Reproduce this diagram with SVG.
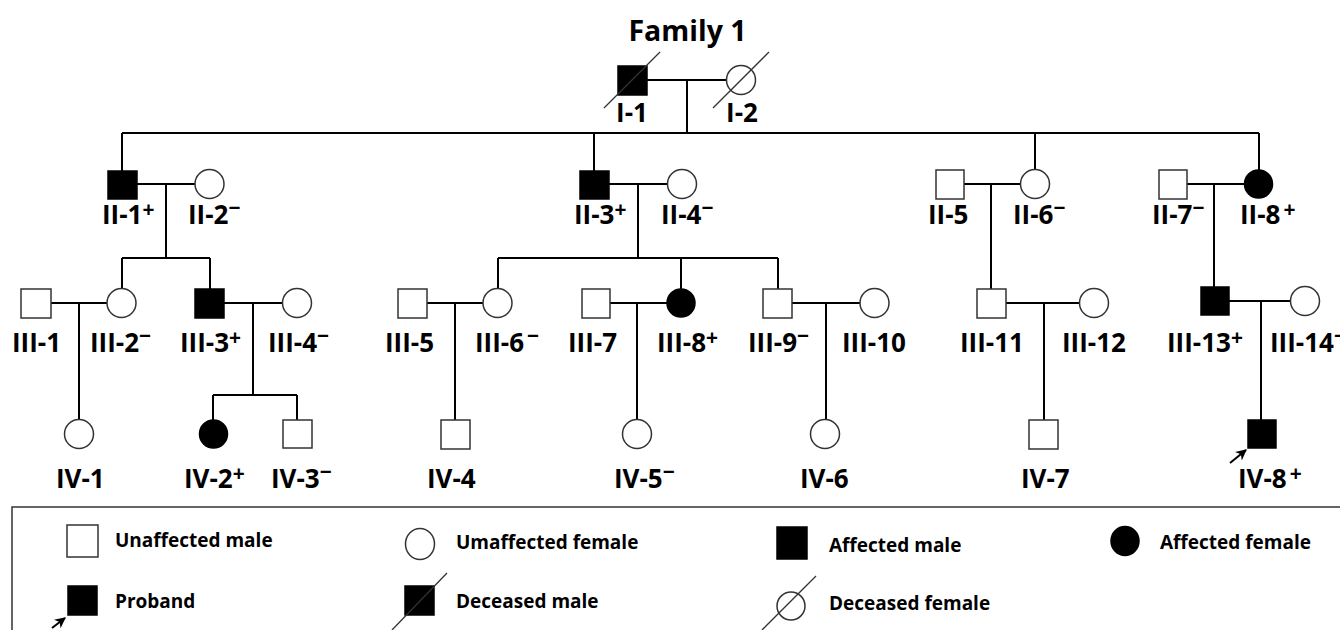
<svg xmlns="http://www.w3.org/2000/svg" width="1340" height="630" viewBox="0 0 1340 630">
<defs>
<style>
text{font-family:"Open Sans","Liberation Sans",sans-serif;font-weight:bold;fill:#000}
.title{font-size:28.5px}
.lbl{font-size:26px}
.sup{font-size:21px}
.leg{font-size:19px}
.m{fill:#fff;stroke:#333;stroke-width:1.5}
.f{fill:#fff;stroke:#333;stroke-width:1.5}
.a{fill:#000;stroke:#000;stroke-width:1.5}
.ln{stroke:#000;stroke-width:2;fill:none}
.sl{stroke:#333;stroke-width:1.3;fill:none}
</style>
<marker id="arr" viewBox="0 0 10 10" refX="9" refY="5" markerWidth="5.5" markerHeight="5.5" orient="auto"><path d="M0,0 L10,5 L0,10 L3,5 z" fill="#000"/></marker>
</defs>
<rect width="1340" height="630" fill="#fff"/>
<text class="title" x="687.5" y="41" text-anchor="middle">Family 1</text>

<g id="connectors">
<path class="ln" d="M647,80H727M687,80V133M122,133H1259M122,133V171M594,133V171M1035,133V170M1259,133V170"/>
<path class="ln" d="M137,184H195M166,184V258M122,258H210M122,258V289M210,258V289"/>
<path class="ln" d="M51,303H107M79,303V420"/>
<path class="ln" d="M224,303H283M253,303V395M213,395H297M213,395V420M297,395V420"/>
<path class="ln" d="M609,184H668M638,184V258M498,258H778M498,258V289M681,258V289M778,258V289"/>
<path class="ln" d="M427,303H483M455,303V420"/>
<path class="ln" d="M610,303H667M637,303V420"/>
<path class="ln" d="M792,303H860M826,303V420"/>
<path class="ln" d="M964,184H1021M991,184V289"/>
<path class="ln" d="M1006,303H1080M1044,303V420"/>
<path class="ln" d="M1187,184H1244M1214,184V287"/>
<path class="ln" d="M1229,301H1291M1261,301V420"/>
</g>

<g id="I-1"><rect class="a" x="618" y="66" width="29" height="29"/><line class="sl" x1="604" y1="108" x2="660" y2="52"/><text class="lbl" x="632" y="122" text-anchor="middle">I-1</text></g>
<g id="I-2"><circle class="f" cx="741" cy="80" r="14.5"/><line class="sl" x1="713" y1="108" x2="769" y2="52"/><text class="lbl" x="742" y="122" text-anchor="middle">I-2</text></g>

<g id="II-1"><rect class="a" x="108" y="171" width="29" height="28"/><text class="lbl" x="102" y="224">II-1<tspan class="sup" dy="-7">+</tspan></text></g>
<g id="II-2"><circle class="f" cx="209.5" cy="184" r="14.5"/><text class="lbl" x="188" y="224">II-2<tspan class="sup" dy="-9">−</tspan></text></g>
<g id="II-3"><rect class="a" x="580" y="171" width="29" height="28"/><text class="lbl" x="574" y="224">II-3<tspan class="sup" dy="-7">+</tspan></text></g>
<g id="II-4"><circle class="f" cx="682" cy="184" r="14.5"/><text class="lbl" x="661" y="224">II-4<tspan class="sup" dy="-9">−</tspan></text></g>
<g id="II-5"><rect class="m" x="936" y="170" width="28" height="29"/><text class="lbl" x="928" y="224">II-5</text></g>
<g id="II-6"><circle class="f" cx="1035" cy="184" r="14.5"/><text class="lbl" x="1013" y="224">II-6<tspan class="sup" dy="-9">−</tspan></text></g>
<g id="II-7"><rect class="m" x="1159" y="170" width="28" height="29"/><text class="lbl" x="1152" y="224">II-7<tspan class="sup" dy="-9">−</tspan></text></g>
<g id="II-8"><circle class="a" cx="1258.5" cy="184" r="14"/><text class="lbl" x="1240" y="224">II-8<tspan class="sup" dx="3" dy="-7">+</tspan></text></g>

<g id="III-1"><rect class="m" x="21" y="289" width="30" height="29"/><text class="lbl" x="12" y="352">III-1</text></g>
<g id="III-2"><circle class="f" cx="121.5" cy="303" r="14.5"/><text class="lbl" x="90" y="352">III-2<tspan class="sup" dy="-9">−</tspan></text></g>
<g id="III-3"><rect class="a" x="195" y="289" width="29" height="29"/><text class="lbl" x="180" y="352">III-3<tspan class="sup" dy="-7">+</tspan></text></g>
<g id="III-4"><circle class="f" cx="297" cy="303" r="14.5"/><text class="lbl" x="268" y="352">III-4<tspan class="sup" dy="-9">−</tspan></text></g>
<g id="III-5"><rect class="m" x="398" y="289" width="29" height="29"/><text class="lbl" x="385" y="352">III-5</text></g>
<g id="III-6"><circle class="f" cx="497.5" cy="303" r="14.5"/><text class="lbl" x="475" y="352">III-6<tspan class="sup" dx="3" dy="-9">−</tspan></text></g>
<g id="III-7"><rect class="m" x="582" y="289" width="28" height="29"/><text class="lbl" x="568" y="352">III-7</text></g>
<g id="III-8"><circle class="a" cx="681" cy="303" r="14"/><text class="lbl" x="657" y="352">III-8<tspan class="sup" dy="-7">+</tspan></text></g>
<g id="III-9"><rect class="m" x="763" y="289" width="29" height="29"/><text class="lbl" x="748" y="352">III-9<tspan class="sup" dy="-9">−</tspan></text></g>
<g id="III-10"><circle class="f" cx="874.5" cy="303" r="14.5"/><text class="lbl" x="842" y="352">III-10</text></g>
<g id="III-11"><rect class="m" x="977" y="289" width="29" height="29"/><text class="lbl" x="960" y="352">III-11</text></g>
<g id="III-12"><circle class="f" cx="1094" cy="303" r="14.5"/><text class="lbl" x="1062" y="352">III-12</text></g>
<g id="III-13"><rect class="a" x="1201" y="287" width="28" height="28"/><text class="lbl" x="1167" y="352">III-13<tspan class="sup" dy="-7">+</tspan></text></g>
<g id="III-14"><circle class="f" cx="1305" cy="301" r="14.5"/><text class="lbl" x="1270" y="352">III-14<tspan class="sup" dy="-9">−</tspan></text></g>

<g id="IV-1"><circle class="f" cx="79" cy="434" r="14.5"/><text class="lbl" x="56" y="488">IV-1</text></g>
<g id="IV-2"><circle class="a" cx="213.5" cy="434" r="14"/><text class="lbl" x="184" y="488">IV-2<tspan class="sup" dy="-7">+</tspan></text></g>
<g id="IV-3"><rect class="m" x="283" y="420" width="29" height="28"/><text class="lbl" x="271" y="488">IV-3<tspan class="sup" dy="-9">−</tspan></text></g>
<g id="IV-4"><rect class="m" x="441" y="420" width="29" height="29"/><text class="lbl" x="427" y="488">IV-4</text></g>
<g id="IV-5"><circle class="f" cx="637" cy="434" r="14.5"/><text class="lbl" x="614" y="488">IV-5<tspan class="sup" dy="-9">−</tspan></text></g>
<g id="IV-6"><circle class="f" cx="825" cy="434" r="14.5"/><text class="lbl" x="800" y="488">IV-6</text></g>
<g id="IV-7"><rect class="m" x="1029" y="420" width="29" height="29"/><text class="lbl" x="1021" y="488">IV-7</text></g>
<g id="IV-8"><rect class="a" x="1248" y="420" width="28" height="28"/><line x1="1230" y1="463" x2="1246" y2="450" stroke="#000" stroke-width="2" marker-end="url(#arr)"/><text class="lbl" x="1238" y="488">IV-8<tspan class="sup" dx="3" dy="-7">+</tspan></text></g>

<g id="legend">
<rect x="12" y="507" width="1340" height="140" fill="none" stroke="#333" stroke-width="1.5"/>
<rect class="m" x="67" y="525" width="31" height="32"/>
<text class="leg" x="115" y="547">Unaffected male</text>
<ellipse class="f" cx="420" cy="544" rx="14.5" ry="15.5"/>
<text class="leg" x="456" y="549">Umaffected female</text>
<rect class="a" x="777" y="527" width="30" height="32"/>
<text class="leg" x="829" y="552">Affected male</text>
<ellipse class="a" cx="1125" cy="541" rx="14" ry="14.5"/>
<text class="leg" x="1160" y="549">Affected female</text>
<rect class="a" x="68" y="586" width="29" height="29"/>
<line x1="52" y1="628" x2="65" y2="618" stroke="#000" stroke-width="2" marker-end="url(#arr)"/>
<text class="leg" x="115" y="608">Proband</text>
<rect class="a" x="405" y="586" width="29" height="29"/>
<line class="sl" x1="392" y1="630" x2="447" y2="573"/>
<text class="leg" x="456" y="608">Deceased male</text>
<circle class="f" cx="791" cy="606" r="14"/>
<line class="sl" x1="762" y1="630" x2="816" y2="576"/>
<text class="leg" x="829" y="610">Deceased female</text>
</g>
</svg>
